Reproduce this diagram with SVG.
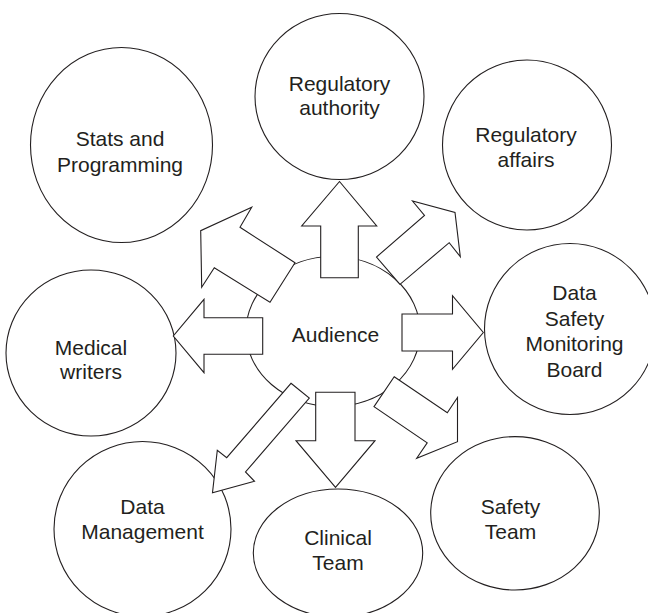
<svg xmlns="http://www.w3.org/2000/svg" width="648" height="613" viewBox="0 0 648 613">
  <style>
    .node { fill: #ffffff; stroke: #231f20; stroke-width: 1.1; }
    .arrow { fill: #ffffff; stroke: #231f20; stroke-width: 1.1; stroke-linejoin: miter; }
    .label { font-family: "Liberation Sans", Arial, Helvetica, sans-serif; font-size: 21px; fill: #231f20; text-anchor: middle; }
  </style>
  <rect x="0" y="0" width="648" height="613" fill="#ffffff"/>

  <!-- outer nodes -->
  <g id="stats-programming">
    <ellipse class="node" cx="121.5" cy="145" rx="91" ry="97.5"/>
    <text class="label" x="120" y="145.5">Stats and</text>
    <text class="label" x="120" y="171.5">Programming</text>
  </g>
  <g id="regulatory-authority">
    <ellipse class="node" cx="339.5" cy="96.5" rx="84.5" ry="83"/>
    <text class="label" x="339.5" y="90.5">Regulatory</text>
    <text class="label" x="339.5" y="114.5">authority</text>
  </g>
  <g id="regulatory-affairs">
    <ellipse class="node" cx="527" cy="145" rx="84.5" ry="85"/>
    <text class="label" x="526" y="141.5">Regulatory</text>
    <text class="label" x="526" y="166.5">affairs</text>
  </g>
  <g id="medical-writers">
    <ellipse class="node" cx="91" cy="353" rx="85" ry="83"/>
    <text class="label" x="91" y="354.5">Medical</text>
    <text class="label" x="91" y="378.5">writers</text>
  </g>
  <g id="dsmb">
    <ellipse class="node" cx="570" cy="329" rx="85.5" ry="85.5"/>
    <text class="label" x="574.5" y="300">Data</text>
    <text class="label" x="574.5" y="325.5">Safety</text>
    <text class="label" x="574.5" y="351">Monitoring</text>
    <text class="label" x="574.5" y="376.5">Board</text>
  </g>
  <g id="data-management">
    <ellipse class="node" cx="142.5" cy="529" rx="88.5" ry="87.5"/>
    <text class="label" x="142.5" y="513.5">Data</text>
    <text class="label" x="142.5" y="538.5">Management</text>
  </g>
  <g id="clinical-team">
    <ellipse class="node" cx="338" cy="553" rx="84.7" ry="64"/>
    <text class="label" x="338" y="545">Clinical</text>
    <text class="label" x="338" y="570">Team</text>
  </g>
  <g id="safety-team">
    <ellipse class="node" cx="515" cy="513.3" rx="84.3" ry="76.7"/>
    <text class="label" x="510.5" y="513.5">Safety</text>
    <text class="label" x="510.5" y="538.5">Team</text>
  </g>

  <!-- hub -->
  <g id="audience">
    <ellipse class="node" cx="333" cy="331.5" rx="87" ry="75"/>
    <text class="label" x="335.5" y="341.5">Audience</text>
  </g>

  <!-- block arrows radiating from the hub -->
  <g id="connectors">
    <!-- up: Regulatory authority -->
    <polygon class="arrow" points="320.7,277.7 320.7,226 301.7,226 339.5,181.5 376.7,226 358.3,226 358.3,277.7"/>
    <!-- upper right: Regulatory affairs -->
    <polygon class="arrow" points="400,284.3 376.5,257 424.5,215.5 412.5,201 455,212.5 460.3,256.7 449.2,242.7"/>
    <!-- right: DSMB -->
    <polygon class="arrow" points="402,314 452.5,314 452.5,295.7 483.3,332.5 452.5,369.3 452.5,351 402,351"/>
    <!-- lower right: Safety Team -->
    <polygon class="arrow" points="394.2,376.7 447.3,412.8 457.5,397.5 457.5,441.7 416.7,458.3 427.2,442.8 374,406.7"/>
    <!-- down: Clinical Team -->
    <polygon class="arrow" points="315.7,392.3 355,392.3 355,440.7 375,440.7 335.5,487.3 296,440.7 315.7,440.7"/>
    <!-- lower left: Data Management -->
    <polygon class="arrow" points="291,383.3 309.3,398 245.5,472 254.5,481.3 212.5,492.7 217.3,450.2 226.7,457.7"/>
    <!-- left: Medical writers -->
    <polygon class="arrow" points="262.7,317.7 262.7,354.3 204,354.3 204,372.7 173.3,336 204,299.3 204,317.7"/>
    <!-- upper left: Stats and Programming -->
    <polygon class="arrow" points="295,262.7 240,227.3 251.7,207.3 200.7,230.7 201.7,287.3 214.3,267.7 270,302.3"/>
  </g>
</svg>
